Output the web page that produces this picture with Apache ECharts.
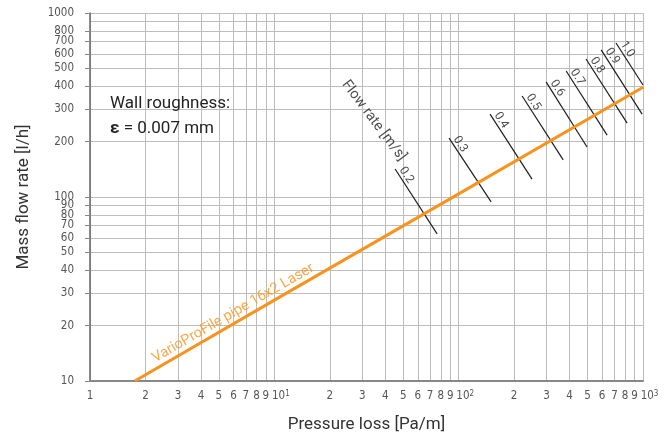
<!DOCTYPE html>
<html><head><meta charset="utf-8">
<script src="https://cdn.jsdelivr.net/npm/echarts@6/dist/echarts.min.js"></script>
<style>html,body{margin:0;padding:0;background:#fff}#c{width:665px;height:432px}</style>
</head><body><div id="c"></div>
<script>
// Pipe characteristic (pressure loss [Pa/m] -> mass flow rate [l/h])
const pressureLoss = [1.75, 10, 100, 1000];
const massFlow = [10, 27.5, 104, 395];

// Flow-rate (velocity) reference segments
const flowRates = ['0.2', '0.3', '0.4', '0.5', '0.6', '0.7', '0.8', '0.9', '1.0'];
const segStartX = [45.2, 88.7, 148, 221, 298, 383, 491, 593, 714];
const segStartY = [142, 209, 282, 354, 422, 484, 562, 630, 687];
const segEndX = [76.4, 150, 250, 369, 497, 639, 820, 989, 1000];
const segEndY = [63, 94, 125, 159, 187, 217, 252, 282, 406];

// Axis ticks (x labels: an empty spacer label at 950 keeps the "9" next to 10³ visible)
const xTicks = [1,2,3,4,5,6,7,8,9,10,20,30,40,50,60,70,80,90,100,200,300,400,500,600,700,800,900,1000];
const xLabelValues = [1,2,3,4,5,6,7,8,9,10,20,30,40,50,60,70,80,90,100,200,300,400,500,600,700,800,900,950,1000];
const yTicks = [10,20,30,40,50,60,70,80,90,100,200,300,400,500,600,700,800,900,1000];

const narrow = "'Liberation Sans Narrow','DejaVu Sans Condensed','Roboto Condensed',Roboto,sans-serif";
const mainFont = "Roboto,'Noto Sans',sans-serif";

function xFmt(v) {
  const r = Math.round(v);
  if (xTicks.indexOf(r) < 0) return ' ';
  const e = Math.floor(Math.log10(r) + 1e-9);
  const p = Math.pow(10, e);
  if (r === p && e > 0) return '{sp|}10{sup|' + e + '}';
  return String(Math.round(r / p));
}

const series = [];
series.push({
  type: 'line', name: 'pipe', data: pressureLoss.map((x, i) => [x, massFlow[i]]),
  symbol: 'none', lineStyle: { color: '#f7931e', width: 3 }, z: 4, silent: true
});
flowRates.forEach((f, i) => {
  series.push({
    type: 'line', data: [[segStartX[i], segStartY[i]], [segEndX[i], segEndY[i]]],
    symbol: 'none', lineStyle: { color: '#1e1e1e', width: 1.2 }, z: 3, silent: true
  });
});
series.push({
  type: 'scatter', symbolSize: 1, itemStyle: { color: 'rgba(0,0,0,0)' }, silent: true, z: 5,
  data: flowRates.map((f, i) => ({ name: f, value: [segStartX[i], segStartY[i]] })),
  label: {
    show: true, formatter: '{b}', position: 'inside', align: 'left', verticalAlign: 'bottom',
    rotate: -57, padding: [0, 0, 0, 3], fontFamily: mainFont, fontSize: 12, color: '#222'
  }
});
series.push({
  type: 'scatter', symbolSize: 1, itemStyle: { color: 'rgba(0,0,0,0)' }, silent: true, z: 5,
  data: [{ name: 'Flow rate [m/s]', value: [segStartX[0], segStartY[0]] }],
  label: {
    show: true, formatter: '{b}', position: 'inside', align: 'right', verticalAlign: 'bottom',
    rotate: -53, offset: [-3, -4.5], fontFamily: mainFont, fontSize: 14.5, color: '#222'
  }
});
series.push({
  type: 'scatter', symbolSize: 1, itemStyle: { color: 'rgba(0,0,0,0)' }, silent: true, z: 5,
  data: [{ name: 'VarioProFile pipe 16x2 Laser', value: [pressureLoss[0], massFlow[0]] }],
  label: {
    show: true, formatter: '{b}', position: 'inside', align: 'left', verticalAlign: 'bottom',
    rotate: 30, padding: [0, 0, 2, 27], fontFamily: mainFont, fontSize: 14.5, color: '#f7931e'
  }
});

const chart = echarts.init(document.getElementById('c'), null, { renderer: 'canvas' });
chart.setOption({
  animation: false,
  backgroundColor: '#fff',
  grid: { left: 90, right: 22, top: 13, bottom: 51, containLabel: false, outerBoundsMode: 'none' },
  xAxis: {
    type: 'log', logBase: 10, min: 1, max: 1000,
    name: 'Pressure loss [Pa/m]', nameLocation: 'middle', nameGap: 35,
    nameTextStyle: { fontFamily: mainFont, fontSize: 17, color: '#333' },
    axisLine: { show: true, onZero: false, lineStyle: { color: '#888', width: 2 } },
    axisTick: { show: true, customValues: xTicks, length: 0, lineStyle: { color: '#888' } },
    axisLabel: {
      customValues: xLabelValues, formatter: xFmt, margin: 9, hideOverlap: false,
      showMinLabel: true, showMaxLabel: true,
      fontFamily: narrow, fontSize: 11.5, color: '#555',
      rich: {
        sp: { width: 13, fontFamily: narrow, fontSize: 11.5 },
        sup: { fontSize: 8, verticalAlign: 'top', fontFamily: narrow, color: '#555' }
      }
    },
    splitLine: { show: true, lineStyle: { color: '#bdbdbd', width: 1 } },
    minorTick: { show: false }, minorSplitLine: { show: false }
  },
  yAxis: {
    type: 'log', logBase: 10, min: 10, max: 1000,
    name: 'Mass flow rate [l/h]', nameLocation: 'middle', nameGap: 58, nameRotate: 90,
    nameTextStyle: { fontFamily: mainFont, fontSize: 17, color: '#333' },
    axisLine: { show: true, onZero: false, lineStyle: { color: '#666', width: 1.5 } },
    axisTick: { show: true, customValues: yTicks, length: 5, lineStyle: { color: '#888' } },
    axisLabel: {
      customValues: yTicks, formatter: v => String(Math.round(v)), margin: 16, hideOverlap: false,
      showMinLabel: true, showMaxLabel: true,
      fontFamily: narrow, fontSize: 11.5, color: '#555', lineHeight: 11
    },
    splitLine: { show: true, lineStyle: { color: '#bdbdbd', width: 1 } }
  },
  graphic: [{
    type: 'text', left: 110, top: 91, z: 10,
    style: {
      text: 'Wall roughness:\n{b|ε} = 0.007 mm',
      fontFamily: mainFont, fontSize: 17, lineHeight: 25, fill: '#222',
      rich: { b: { fontWeight: 'bold', fontFamily: mainFont, fontSize: 17, fill: '#222' } }
    }
  }],
  series: series
});
</script></body></html>
